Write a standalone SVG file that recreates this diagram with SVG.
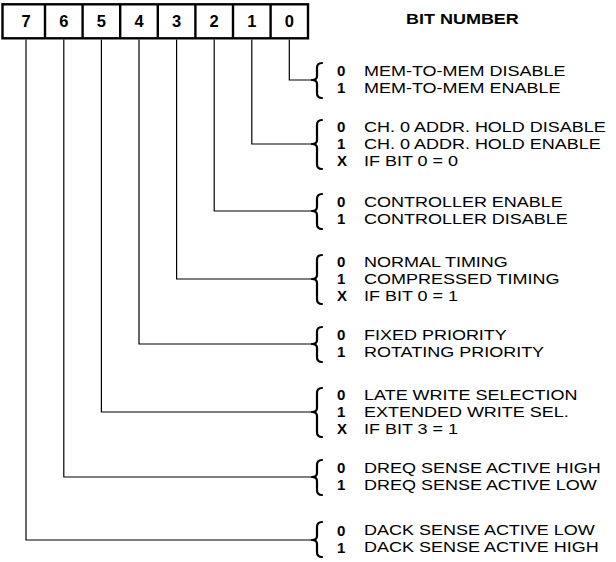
<svg xmlns="http://www.w3.org/2000/svg" width="616" height="562" viewBox="0 0 616 562">
<style>
.bg{fill:#fff}
.box{fill:#fff;stroke:#000;stroke-width:2.4}
.div{stroke:#000;stroke-width:2.4}
.dg{font-family:"Liberation Sans",Arial,sans-serif;font-weight:bold;font-size:16.5px;text-anchor:middle;fill:#000}
.title{font-family:"Liberation Sans",Arial,sans-serif;font-weight:bold;font-size:15px;fill:#000}
.con{fill:none;stroke:#000;stroke-width:1.2}
.br{fill:none;stroke:#000;stroke-width:2.2;stroke-linejoin:round;stroke-linecap:round}
.v{font-family:"Liberation Sans",Arial,sans-serif;font-weight:bold;font-size:15px;fill:#000}
.t{font-family:"Liberation Sans",Arial,sans-serif;font-size:15px;fill:#000}
</style>
<rect class="bg" x="0" y="0" width="616" height="562"/>
<g id="register">
<rect class="box" x="2.5" y="4.3" width="305.5" height="34"/>
<line class="div" x1="45" y1="4.3" x2="45" y2="38.3"/>
<line class="div" x1="82.6" y1="4.3" x2="82.6" y2="38.3"/>
<line class="div" x1="120.2" y1="4.3" x2="120.2" y2="38.3"/>
<line class="div" x1="157.8" y1="4.3" x2="157.8" y2="38.3"/>
<line class="div" x1="195.4" y1="4.3" x2="195.4" y2="38.3"/>
<line class="div" x1="233" y1="4.3" x2="233" y2="38.3"/>
<line class="div" x1="270.6" y1="4.3" x2="270.6" y2="38.3"/>
<text class="dg" x="26" y="27.3">7</text>
<text class="dg" x="63.8" y="27.3">6</text>
<text class="dg" x="101.4" y="27.3">5</text>
<text class="dg" x="139" y="27.3">4</text>
<text class="dg" x="176.6" y="27.3">3</text>
<text class="dg" x="214.2" y="27.3">2</text>
<text class="dg" x="251.8" y="27.3">1</text>
<text class="dg" x="289.3" y="27.3">0</text>
</g>
<g id="title"><text class="title" transform="translate(406 24) scale(1.2 1)">BIT NUMBER</text></g>
<g id="connectors">
<path class="con" d="M289.3,39.5 V80 H312"/>
<path class="con" d="M251.8,39.5 V144 H312"/>
<path class="con" d="M214.2,39.5 V211 H312"/>
<path class="con" d="M176.6,39.5 V279 H312"/>
<path class="con" d="M139,39.5 V344 H312"/>
<path class="con" d="M101.4,39.5 V412 H312"/>
<path class="con" d="M63.8,39.5 V477 H312"/>
<path class="con" d="M26,39.5 V540 H312"/>
</g>
<g id="bit0">
<path class="br" d="M322,63 Q317,63 317,68 V76 Q317,80 312,80 Q317,80 317,84 V93 Q317,98 322,98"/>
<text class="v" x="337" y="76">0</text>
<text class="v" x="337" y="93">1</text>
<g transform="translate(364 0) scale(1.2 1)"><text class="t" x="0" y="76">MEM-TO-MEM DISABLE</text><text class="t" x="0" y="93">MEM-TO-MEM ENABLE</text></g>
</g>
<g id="bit1">
<path class="br" d="M322,120 Q317,120 317,125 V140 Q317,144 312,144 Q317,144 317,148 V164 Q317,169 322,169"/>
<text class="v" x="337" y="132">0</text>
<text class="v" x="337" y="149">1</text>
<text class="v" x="337" y="166">X</text>
<g transform="translate(364 0) scale(1.2 1)"><text class="t" x="0" y="132">CH. 0 ADDR. HOLD DISABLE</text><text class="t" x="0" y="149">CH. 0 ADDR. HOLD ENABLE</text><text class="t" x="0" y="166">IF BIT 0 = 0</text></g>
</g>
<g id="bit2">
<path class="br" d="M322,194 Q317,194 317,199 V207 Q317,211 312,211 Q317,211 317,215 V224 Q317,229 322,229"/>
<text class="v" x="337" y="207">0</text>
<text class="v" x="337" y="224">1</text>
<g transform="translate(364 0) scale(1.2 1)"><text class="t" x="0" y="207">CONTROLLER ENABLE</text><text class="t" x="0" y="224">CONTROLLER DISABLE</text></g>
</g>
<g id="bit3">
<path class="br" d="M322,255 Q317,255 317,260 V275 Q317,279 312,279 Q317,279 317,283 V299 Q317,304 322,304"/>
<text class="v" x="337" y="267">0</text>
<text class="v" x="337" y="284">1</text>
<text class="v" x="337" y="301">X</text>
<g transform="translate(364 0) scale(1.2 1)"><text class="t" x="0" y="267">NORMAL TIMING</text><text class="t" x="0" y="284">COMPRESSED TIMING</text><text class="t" x="0" y="301">IF BIT 0 = 1</text></g>
</g>
<g id="bit4">
<path class="br" d="M322,327 Q317,327 317,332 V340 Q317,344 312,344 Q317,344 317,348 V357 Q317,362 322,362"/>
<text class="v" x="337" y="340">0</text>
<text class="v" x="337" y="357">1</text>
<g transform="translate(364 0) scale(1.2 1)"><text class="t" x="0" y="340">FIXED PRIORITY</text><text class="t" x="0" y="357">ROTATING PRIORITY</text></g>
</g>
<g id="bit5">
<path class="br" d="M322,388 Q317,388 317,393 V408 Q317,412 312,412 Q317,412 317,416 V432 Q317,437 322,437"/>
<text class="v" x="337" y="400">0</text>
<text class="v" x="337" y="417">1</text>
<text class="v" x="337" y="434">X</text>
<g transform="translate(364 0) scale(1.2 1)"><text class="t" x="0" y="400">LATE WRITE SELECTION</text><text class="t" x="0" y="417">EXTENDED WRITE SEL.</text><text class="t" x="0" y="434">IF BIT 3 = 1</text></g>
</g>
<g id="bit6">
<path class="br" d="M322,460 Q317,460 317,465 V473 Q317,477 312,477 Q317,477 317,481 V490 Q317,495 322,495"/>
<text class="v" x="337" y="473">0</text>
<text class="v" x="337" y="490">1</text>
<g transform="translate(364 0) scale(1.2 1)"><text class="t" x="0" y="473">DREQ SENSE ACTIVE HIGH</text><text class="t" x="0" y="490">DREQ SENSE ACTIVE LOW</text></g>
</g>
<g id="bit7">
<path class="br" d="M322,522 Q317,522 317,527 V536 Q317,540 312,540 Q317,540 317,544 V552 Q317,557 322,557"/>
<text class="v" x="337" y="535.5">0</text>
<text class="v" x="337" y="552.5">1</text>
<g transform="translate(364 0) scale(1.2 1)"><text class="t" x="0" y="535.5">DACK SENSE ACTIVE LOW</text><text class="t" x="0" y="552.5">DACK SENSE ACTIVE HIGH</text></g>
</g>
</svg>
